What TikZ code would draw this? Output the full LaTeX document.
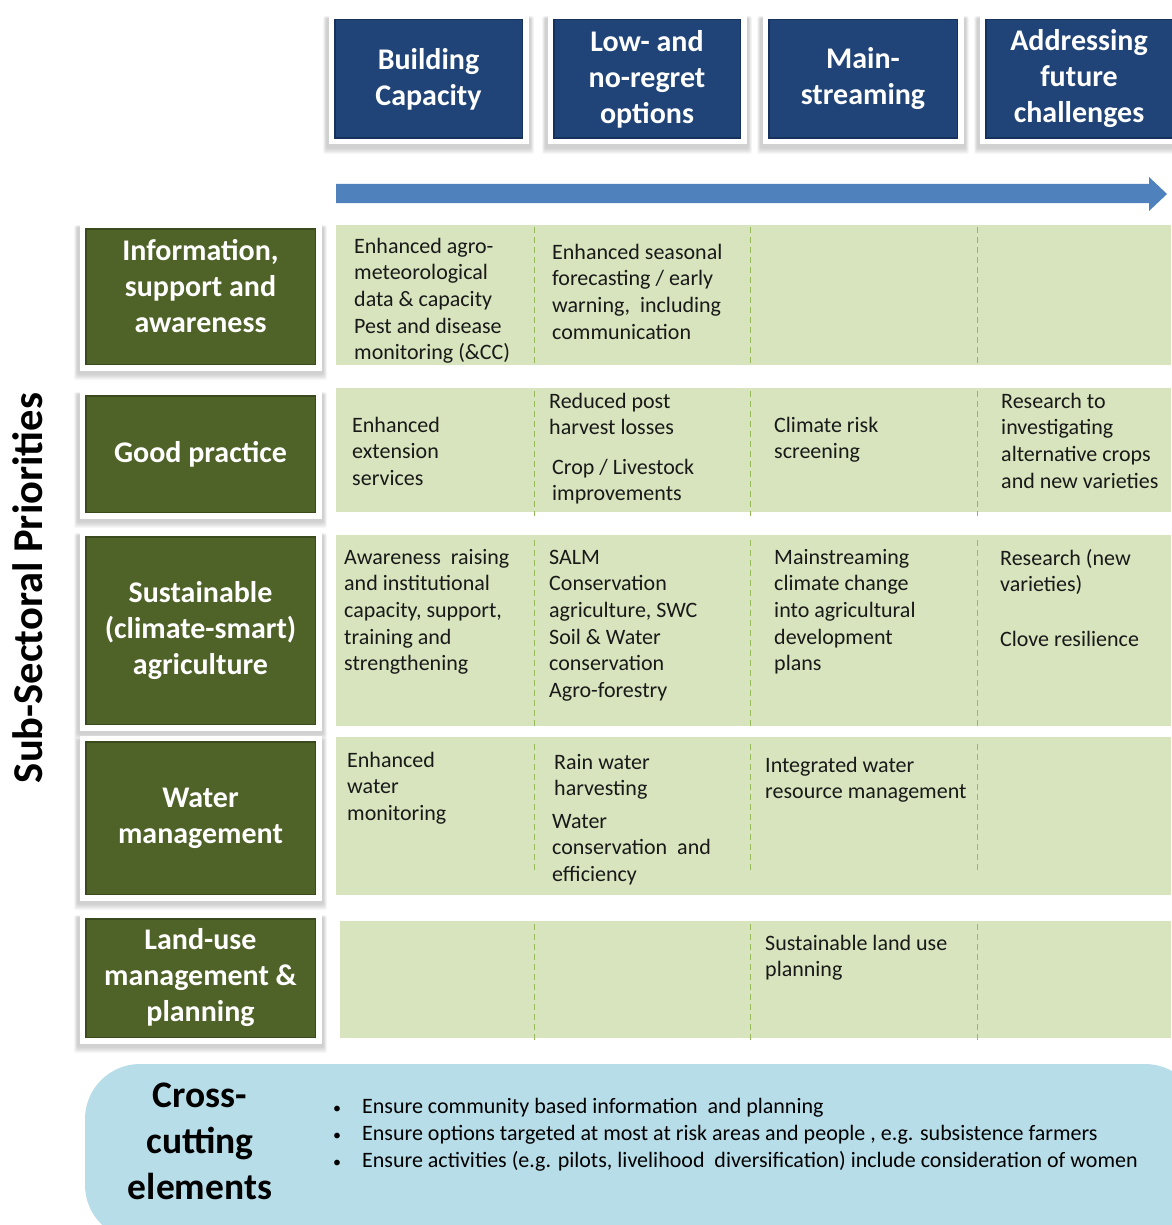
\documentclass[tikz,border=0pt]{standalone}
\usepackage{fontspec}
\setmainfont{Carlito}
\definecolor{hdrblue}{RGB}{32,68,120}
\definecolor{hdrrim}{RGB}{22,50,92}
\definecolor{boxgreen}{RGB}{79,98,40}
\definecolor{boxrim}{RGB}{58,74,28}
\definecolor{band}{RGB}{215,228,189}
\definecolor{sep}{RGB}{150,185,90}
\definecolor{arrowblue}{RGB}{79,129,189}
\definecolor{crossblue}{RGB}{183,221,232}
\definecolor{celltext}{RGB}{25,25,25}
\newcommand\cellfont{\fontsize{22}{26.6}\selectfont}
\newcommand\hdrfont{\fontsize{30}{36}\selectfont\bfseries}
\newcommand\cstrut{\rule{0pt}{17pt}}
\newcommand\softshadow[1]{%
  \foreach \i in {1,...,6}{%
    \fill[black,opacity=0.03, rounded corners=2pt]
      ([shift={({-1.75pt-\i*0.6pt},{-3pt-\i*1.1pt})}]#1.south west) rectangle
      ([shift={({1.75pt+\i*0.6pt},{-5pt+\i*0.4pt})}]#1.north east);}}
\pgfdeclarelayer{paper}
\pgfdeclarelayer{shade}
\pgfsetlayers{paper,shade,main}
\tikzset{
  hdrbox/.style={fill=hdrblue, draw=white, line width=5.5pt, text=white,
    align=center, font=\hdrfont, inner sep=0pt,
    path picture={\draw[hdrrim, line width=1.5pt]
      ([shift={(3.5pt,3.5pt)}]path picture bounding box.south west) rectangle
      ([shift={(-3.5pt,-3.5pt)}]path picture bounding box.north east);}},
  rowbox/.style={fill=boxgreen, draw=white, line width=5.5pt, text=white,
    align=center, font=\hdrfont, inner sep=0pt,
    minimum width=236.5pt,
    path picture={\draw[boxrim, line width=1.5pt]
      ([shift={(3.5pt,3.5pt)}]path picture bounding box.south west) rectangle
      ([shift={(-3.5pt,-3.5pt)}]path picture bounding box.north east);}},
  cell/.style={anchor=north west, inner sep=0pt, align=left, font=\cellfont, text=celltext},
  sepline/.style={draw=sep, line width=0.9pt, dash pattern=on 6pt off 4pt},
  rowlabel/.style={text=white, align=center, font=\hdrfont, inner sep=0pt},
}
\begin{document}
\begin{tikzpicture}[x=1pt,y=-1pt]
\useasboundingbox (0,0) rectangle (1171,1225);
\begin{pgfonlayer}{paper}
\fill[white] (0,0) rectangle (1171,1225);
\end{pgfonlayer}

% header boxes
\node[hdrbox, minimum width=194.5pt, minimum height=125.5pt] (h1) at (428.5,79) {Building\\Capacity};
\node[hdrbox, minimum width=193.5pt, minimum height=125.5pt] (h2) at (647,79) {Low- and\\no-regret\\options};
\node[hdrbox, minimum width=195.5pt, minimum height=125.5pt] (h3) at (863,79) {Main-\\streaming};
\node[hdrbox, minimum width=193.5pt, minimum height=125.5pt] (h4) at (1079,79) {Addressing\\future\\challenges};

% progress arrow
\fill[arrowblue] (336,184) -- (1149,184) -- (1149,177) -- (1167,194) -- (1149,211) -- (1149,203) -- (336,203) -- cycle;

% bands
\fill[band] (336,225) rectangle (1171,365);
\fill[band] (336,388) rectangle (1171,512);
\fill[band] (336,535) rectangle (1171,726);
\fill[band] (336,737) rectangle (1171,895);
\fill[band] (340,921) rectangle (1171,1038);

% dashed separators
\foreach \x in {534,750,977}{
  \draw[sepline] (\x,227) -- (\x,364);
  \draw[sepline] (\x,391) -- (\x,516);
  \draw[sepline] (\x,540) -- (\x,727);
  \draw[sepline] (\x,744) -- (\x,874);
  \draw[sepline] (\x,924) -- (\x,1040);
}

% row boxes
\node[rowbox, minimum height=142.5pt] (g1) at (200.5,296.5) {};
\node[rowlabel] (g1t) at (200.5,286) {Information,\\support and\\awareness};
\node[rowbox, minimum height=123.5pt] (g2) at (200.5,454) {Good practice};
\node[rowbox, minimum height=194.5pt] (g3) at (200.5,630.5) {Sustainable\\(climate-smart)\\agriculture};
\node[rowbox, minimum height=159.5pt] (g4) at (200.5,818) {Water\\management};
\node[rowbox, minimum height=125.5pt] (g5) at (200.5,978) {Land-use\\management \&\\planning};

% soft shadows behind the framed boxes
\begin{pgfonlayer}{shade}
\softshadow{h1}\softshadow{h2}\softshadow{h3}\softshadow{h4}
\softshadow{g1}\softshadow{g2}\softshadow{g3}\softshadow{g4}\softshadow{g5}
\end{pgfonlayer}

% vertical title
\node[rotate=90, font=\fontsize{42.5}{50}\selectfont\bfseries, inner sep=0pt] (ssp) at (28,588) {Sub-Sectoral Priorities};

% cell texts
\node[cell] (c11) at (354,236) {\cstrut Enhanced agro-\\meteorological\\data \& capacity\\Pest and disease\\monitoring (\&CC)};
\node[cell] (c12) at (552,242) {\cstrut Enhanced seasonal\\forecasting / early\\warning,\ \ including\\communication};

\node[cell] (c21) at (352,415) {\cstrut Enhanced\\extension\\services};
\node[cell] (c22a) at (549,391) {\cstrut Reduced post\\harvest losses};
\node[cell] (c22b) at (552,457) {\cstrut Crop / Livestock\\improvements};
\node[cell] (c23) at (774,415) {\cstrut Climate risk\\screening};
\node[cell] (c24) at (1001,391) {\cstrut Research to\\investigating\\alternative crops\\and new varieties};

\node[cell] (c31) at (344,547) {\cstrut Awareness\ \ raising\\and institutional\\capacity, support,\\training and\\strengthening};
\node[cell] (c32) at (549,547) {\cstrut SALM\\Conservation\\agriculture, SWC\\Soil \& Water\\conservation\\Agro-forestry};
\node[cell] (c33) at (774,547) {\cstrut Mainstreaming\\climate change\\into agricultural\\development\\plans};
\node[cell] (c34a) at (1000,548) {\cstrut Research (new\\varieties)};
\node[cell] (c34b) at (1000,629) {\cstrut Clove resilience};

\node[cell] (c41) at (347,750) {\cstrut Enhanced\\water\\monitoring};
\node[cell] (c42a) at (554,752) {\cstrut Rain water\\harvesting};
\node[cell] (c42b) at (552,811) {\cstrut Water\\conservation\ \ and\\efficiency};
\node[cell] (c43) at (765,755) {\cstrut Integrated water\\resource management};

\node[cell] (c53) at (765,933) {\cstrut Sustainable land use\\planning};

% cross-cutting elements
\fill[crossblue] (85,1064) [rounded corners=55pt] rectangle (1200,1240);
\node[font=\fontsize{37.5}{46}\selectfont\bfseries, align=center, inner sep=0pt, text=black] (cc) at (200,1141) {Cross-\\cutting\\elements};
\node[cell, text=black, font=\fontsize{22}{27}\selectfont] (ccl) at (333,1096) {\cstrut\makebox[29pt][l]{\fontsize{16}{16}\selectfont\textbullet}Ensure community based information\ \ and planning\\
\makebox[29pt][l]{\fontsize{16}{16}\selectfont\textbullet}Ensure options targeted at most at risk areas and people , e.g. subsistence farmers\\
\makebox[29pt][l]{\fontsize{16}{16}\selectfont\textbullet}Ensure activities (e.g. pilots, livelihood\ \ diversification) include consideration of women};
\end{tikzpicture}
\end{document}
